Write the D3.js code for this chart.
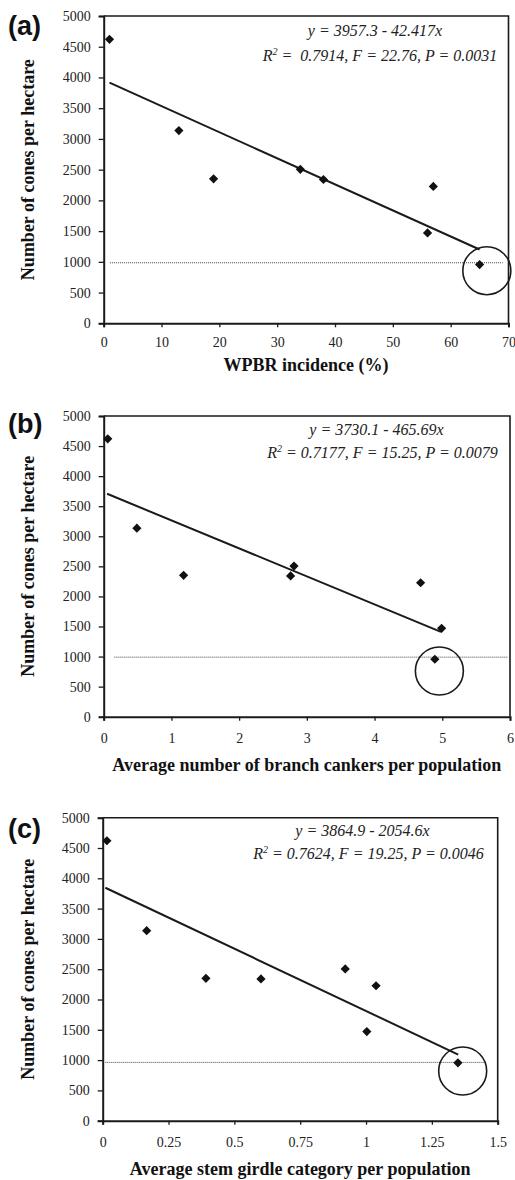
<!DOCTYPE html>
<html>
<head>
<meta charset="utf-8">
<script src="https://cdn.jsdelivr.net/npm/d3@7"></script>
<style>
  html, body { margin: 0; padding: 0; background: #fff; }
  svg { display: block; }
  text { white-space: pre; }
</style>
</head>
<body>
<svg id="chart" width="515" height="1180"></svg>
<script>
// ---------------- data ----------------
const conesPerHectare = [4620, 3135, 2350, 2505, 2340, 1470, 2227, 955];

const panelLabels = ["(a)", "(b)", "(c)"];
const xTitles = ["WPBR incidence (%)",
                 "Average number of branch cankers per population",
                 "Average stem girdle category per population"];
const yTitle = "Number of cones per hectare";

const xIncidence = [1, 13, 19, 34, 38, 56, 57, 65];
const xCankers   = [0.06, 0.49, 1.18, 2.81, 2.76, 4.99, 4.68, 4.89];
const xGirdle    = [0.016, 0.167, 0.392, 0.921, 0.601, 1.003, 1.038, 1.349];

const xDomains = [[0, 70], [0, 6], [0, 1.5]];
const yDomain = [0, 5000];
const xTickValues = [[0, 10, 20, 30, 40, 50, 60, 70], [0, 1, 2, 3, 4, 5, 6],
                     [0, 0.25, 0.5, 0.75, 1, 1.25, 1.5]];
const yTickValues = [0, 500, 1000, 1500, 2000, 2500, 3000, 3500, 4000, 4500, 5000];

const intercepts = [3957.3, 3730.1, 3864.9];
const slopes = [-42.417, -465.69, -2054.6];
const fitRanges = [[1, 65], [0.05, 4.98], [0.01, 1.35]];

const eqLine1 = ["y = 3957.3 - 42.417x", "y = 3730.1 - 465.69x", "y = 3864.9 - 2054.6x"];
const eqStats = [" =  0.7914, F = 22.76, P = 0.0031",
                 " = 0.7177, F = 15.25, P = 0.0079",
                 " = 0.7624, F = 19.25, P = 0.0046"];

const thresholdY = [985, 990, 962];
const thresholdX = [[1.1, 69], [0.157, 5.96], [0.01, 1.45]];

const circleCenters = [[66.25, 856], [4.957, 760], [1.367, 820]];

// ---------------- layout ----------------
const layouts = [
  { left: 103.7, right: 508.5, top: 16, bottom: 323.3, tickLabelPad: 10, titleY: 371,
    labelY: 35, eq1: [375, 36], eq2: [380, 61] },
  { left: 103.7, right: 510, top: 416, bottom: 716.7, tickLabelPad: 12, titleY: 771,
    labelY: 433, eq1: [376.5, 435], eq2: [382.5, 458] },
  { left: 102.7, right: 497.7, top: 817.7, bottom: 1120.7, tickLabelPad: 12, titleY: 1175,
    labelY: 838, eq1: [362.5, 836], eq2: [368.5, 859] }
];
const xSeries = [xIncidence, xCankers, xGirdle];

const serif = "Liberation Serif, Times New Roman, serif";
const sans = "Liberation Sans, Arial, sans-serif";
const ink = "#1a1a1a";

const svg = d3.select("#chart");

layouts.forEach((L, i) => {
  const x = d3.scaleLinear().domain(xDomains[i]).range([L.left, L.right]);
  const y = d3.scaleLinear().domain(yDomain).range([L.bottom, L.top]);
  const g = svg.append("g");

  // frame (top & right)
  g.append("path")
    .attr("d", `M${x(xDomains[i][0])},${y(yDomain[1])}H${x(xDomains[i][1])}V${y(yDomain[0])}`)
    .attr("fill", "none").attr("stroke", ink).attr("stroke-width", 1.6);

  // y axis
  const yAxis = g.append("g")
    .attr("transform", `translate(${L.left},0)`)
    .call(d3.axisLeft(y).tickValues(yTickValues).tickSize(5).tickPadding(8).tickFormat(d3.format("d")));
  // x axis
  const xAxis = g.append("g")
    .attr("transform", `translate(0,${L.bottom})`)
    .call(d3.axisBottom(x).tickValues(xTickValues[i]).tickSize(4).tickPadding(L.tickLabelPad)
      .tickFormat(d => String(d)));

  [yAxis, xAxis].forEach(ax => {
    ax.attr("font-family", serif).attr("font-size", 14);
    ax.select(".domain").attr("stroke", ink).attr("stroke-width", 2);
    ax.selectAll(".tick line").attr("stroke", ink).attr("stroke-width", 1.3);
    ax.selectAll(".tick text").attr("fill", "#222")
      .attr("font-family", serif).attr("font-size", 14);
  });

  // threshold dotted line
  g.append("line")
    .attr("x1", x(thresholdX[i][0])).attr("x2", x(thresholdX[i][1]))
    .attr("y1", y(thresholdY[i])).attr("y2", y(thresholdY[i]))
    .attr("stroke", "#444").attr("stroke-width", 1).attr("stroke-dasharray", "1,1");

  // regression line
  const fx = fitRanges[i];
  g.append("line")
    .attr("x1", x(fx[0])).attr("y1", y(intercepts[i] + slopes[i] * fx[0]))
    .attr("x2", x(fx[1])).attr("y2", y(intercepts[i] + slopes[i] * fx[1]))
    .attr("stroke", ink).attr("stroke-width", 2);

  // points (diamonds)
  const pts = xSeries[i].map((xv, k) => [xv, conesPerHectare[k]]);
  const r = 4.6;
  g.selectAll("path.pt").data(pts).join("path")
    .attr("class", "pt")
    .attr("d", d => {
      const cx = x(d[0]), cy = y(d[1]);
      return `M${cx},${cy - r}L${cx + r},${cy}L${cx},${cy + r}L${cx - r},${cy}Z`;
    })
    .attr("fill", "#111");

  // highlight circle
  g.append("circle")
    .attr("cx", x(circleCenters[i][0])).attr("cy", y(circleCenters[i][1]))
    .attr("r", 24).attr("fill", "none").attr("stroke", ink).attr("stroke-width", 1.6);

  // equations
  g.append("text")
    .attr("x", L.eq1[0]).attr("y", L.eq1[1]).attr("text-anchor", "middle")
    .attr("font-family", serif).attr("font-style", "italic").attr("font-size", 16)
    .attr("fill", "#222").text(eqLine1[i]);
  const t2 = g.append("text")
    .attr("x", L.eq2[0]).attr("y", L.eq2[1]).attr("text-anchor", "middle")
    .attr("font-family", serif).attr("font-style", "italic").attr("font-size", 16)
    .attr("fill", "#222");
  t2.append("tspan").text("R");
  t2.append("tspan").attr("dy", -6).attr("font-size", 10).text("2");
  t2.append("tspan").attr("dy", 6).text(eqStats[i]);

  // x title
  g.append("text")
    .attr("x", (L.left + L.right) / 2).attr("y", L.titleY).attr("text-anchor", "middle")
    .attr("font-family", serif).attr("font-weight", "bold").attr("font-size", 18)
    .attr("fill", "#111").text(xTitles[i]);

  // y title
  g.append("text")
    .attr("transform", `translate(34,${(L.top + L.bottom) / 2}) rotate(-90)`)
    .attr("text-anchor", "middle")
    .attr("font-family", serif).attr("font-weight", "bold").attr("font-size", 18)
    .attr("fill", "#111").text(yTitle);

  // panel label
  g.append("text")
    .attr("x", 8).attr("y", L.labelY)
    .attr("font-family", sans).attr("font-weight", "bold").attr("font-size", 27)
    .attr("fill", "#111").text(panelLabels[i]);
});
</script>
</body>
</html>
